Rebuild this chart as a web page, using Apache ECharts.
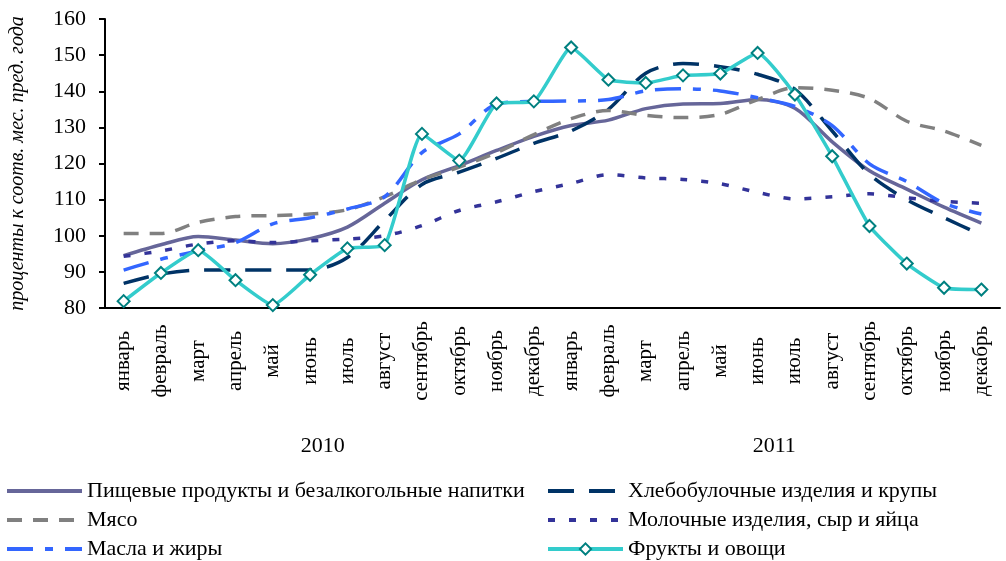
<!DOCTYPE html>
<html>
<head>
<meta charset="utf-8">
<script src="https://cdn.jsdelivr.net/npm/echarts@6/dist/echarts.min.js"></script>
<style>
  html, body { margin: 0; padding: 0; background: #fff; }
  #chart { width: 1006px; height: 561px; }
</style>
</head>
<body>
<div id="chart"></div>
<script>
const months = ['январь', 'февраль', 'март', 'апрель', 'май', 'июнь', 'июль', 'август', 'сентябрь', 'октябрь', 'ноябрь', 'декабрь',
  'январь', 'февраль', 'март', 'апрель', 'май', 'июнь', 'июль', 'август', 'сентябрь', 'октябрь', 'ноябрь', 'декабрь'];
const years = ['2010', '2011'];

const food = [94.5, 97.5, 99.8, 98.8, 97.8, 99.2, 102.4, 109.0, 115.5, 119.4, 123.6, 127.5,
  130.5, 132.0, 135.2, 136.5, 136.6, 137.7, 135.3, 126.0, 118.0, 112.9, 107.9, 103.5];
const bread = [86.8, 89.4, 90.5, 90.5, 90.5, 90.5, 94.0, 104.2, 114.2, 117.6, 121.4, 125.6,
  129.0, 135.0, 145.0, 147.7, 146.8, 144.7, 140.5, 129.0, 117.0, 110.0, 105.0, 100.2];
const meat = [100.6, 100.6, 103.7, 105.3, 105.6, 106.0, 107.2, 110.8, 115.5, 119.0, 123.0, 128.0,
  132.4, 134.7, 133.3, 132.7, 133.6, 137.7, 141.0, 140.3, 138.0, 131.7, 129.0, 125.0];
const dairy = [94.3, 95.8, 97.7, 98.6, 98.1, 98.6, 99.1, 100.0, 102.8, 107.0, 109.4, 112.2,
  114.5, 116.9, 116.0, 115.6, 114.4, 112.0, 110.2, 110.8, 111.6, 110.5, 109.5, 109.0];
const oils = [90.5, 93.5, 95.8, 98.1, 103.3, 105.0, 107.4, 110.8, 123.0, 128.2, 136.4, 137.2,
  137.3, 137.7, 140.1, 140.7, 140.1, 138.2, 135.8, 130.5, 119.9, 115.0, 109.0, 106.0];
const fruits = [81.9, 89.7, 96.0, 87.7, 80.8, 89.2, 96.5, 97.4, 128.2, 120.8, 136.6, 137.2,
  152.1, 143.2, 142.3, 144.4, 144.9, 150.6, 139.1, 122.0, 102.7, 92.3, 85.6, 85.1];

const names = [
  'Пищевые продукты и безалкогольные напитки',
  'Хлебобулочные изделия и крупы',
  'Мясо',
  'Молочные изделия, сыр и яйца',
  'Масла и жиры',
  'Фрукты и овощи'
];

const font = 'Liberation Serif, Times New Roman, serif';
const axisColor = '#000';

const lineSeries = (name, data, color, dash) => ({
  name,
  type: 'line',
  data,
  symbol: 'none',
  smooth: 0.3,
  lineStyle: { color, width: 3.5, type: dash },
  itemStyle: { color },
  z: 2
});

const gridBox = { left: 97, right: 6, top: 19, bottom: 253 };
const legendText = { fontFamily: font, fontSize: 22, color: '#000', lineHeight: 20 };

// one legend per entry, two columns of three rows
const legendItem = (name, col, row, withSymbol) => ({
  left: col === 0 ? 5 : 546,
  top: 480 + row * 29,
  padding: 0,
  itemWidth: 75,
  itemHeight: 14,
  lineStyle: { width: 4 },
  textStyle: legendText,
  data: [withSymbol ? { name } : { name, itemStyle: { opacity: 0 } }]
});

const chart = echarts.init(document.getElementById('chart'));
chart.setOption({
  backgroundColor: '#fff',
  animation: false,
  grid: [gridBox, gridBox],
  legend: [
    legendItem(names[0], 0, 0, false),
    legendItem(names[1], 1, 0, false),
    legendItem(names[2], 0, 1, false),
    legendItem(names[3], 1, 1, false),
    legendItem(names[4], 0, 2, false),
    legendItem(names[5], 1, 2, true)
  ],
  xAxis: [
    {
      type: 'category',
      gridIndex: 0,
      data: months,
      boundaryGap: true,
      axisLine: { lineStyle: { color: axisColor, width: 2 } },
      axisTick: { interval: 0, length: 103, lineStyle: { color: axisColor, width: 2 } },
      axisLabel: {
        interval: 0, rotate: 90, margin: 53,
        align: 'center', verticalAlign: 'middle',
        fontFamily: font, fontSize: 21, color: '#000'
      },
      splitLine: { show: false }
    },
    {
      type: 'category',
      gridIndex: 1,
      data: years,
      position: 'bottom',
      boundaryGap: true,
      axisLine: { show: false },
      axisTick: { interval: 0, length: 152, lineStyle: { color: axisColor, width: 2 } },
      axisLabel: { margin: 127, fontFamily: font, fontSize: 22, color: '#000' },
      splitLine: { show: false }
    }
  ],
  yAxis: [
    {
      type: 'value',
      gridIndex: 0,
      min: 80, max: 160, interval: 10,
      name: 'проценты к соотв. мес. пред. года',
      nameLocation: 'middle',
      nameGap: 77,
      nameTextStyle: { fontFamily: font, fontSize: 20, fontStyle: 'italic', color: '#000' },
      axisLine: { show: true, lineStyle: { color: axisColor, width: 2 } },
      axisTick: { show: true, length: 6, lineStyle: { color: axisColor, width: 2 } },
      axisLabel: { margin: 19, fontFamily: font, fontSize: 22, color: '#000' },
      splitLine: { show: false }
    },
    { type: 'value', gridIndex: 1, show: false }
  ],
  series: [
    lineSeries(names[0], food, '#666699', 'solid'),
    lineSeries(names[1], bread, '#003366', [26, 15]),
    lineSeries(names[2], meat, '#808080', [15, 11]),
    lineSeries(names[3], dairy, '#333399', [7, 14]),
    lineSeries(names[4], oils, '#3366FF', [26, 12, 8, 12]),
    {
      name: names[5],
      type: 'line',
      data: fruits,
      symbol: 'diamond',
      symbolSize: 12,
      smooth: 0.15,
      lineStyle: { color: '#33CCCC', width: 3.5 },
      itemStyle: { color: '#fff', borderColor: '#008080', borderWidth: 2 },
      z: 3
    }
  ]
});
</script>
</body>
</html>
